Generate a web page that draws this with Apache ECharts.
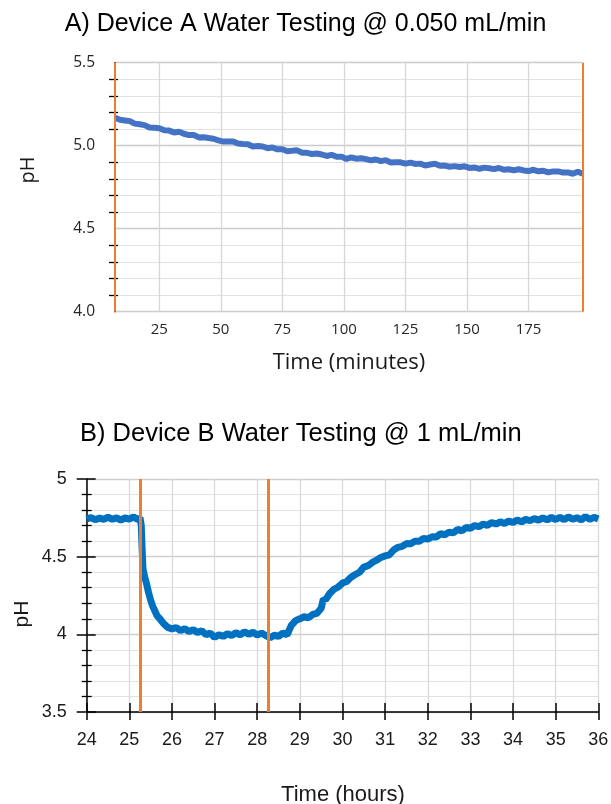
<!DOCTYPE html>
<html><head><meta charset="utf-8">
<script src="https://cdn.jsdelivr.net/npm/echarts@6/dist/echarts.min.js"></script>
<style>html,body{margin:0;padding:0;background:#fff}#c{width:611px;height:804px}</style>
</head><body><div id="c"></div>
<script>
// ---------- Chart A data ----------
const titleA = 'A) Device A Water Testing @ 0.050 mL/min';
const aTime = [7,9,11,13,15,17,19,21,23,25,27,29,31,33,35,37,39,41,43,45,47,49,51,53,55,57,59,61,63,65,67,69,71,73,75,77,79,81,83,85,87,89,91,93,95,97,99,101,103,105,107,109,111,113,115,117,119,121,123,125,127,129,131,133,135,137,139,141,143,145,147,149,151,153,155,157,159,161,163,165,167,169,171,173,175,177,179,181,183,185,187,189,191,193,195,197];
const aPH = [5.168,5.156,5.152,5.148,5.133,5.129,5.124,5.110,5.108,5.105,
5.093,5.091,5.080,5.084,5.072,5.064,5.064,5.050,5.051,5.046,
5.042,5.032,5.025,5.025,5.026,5.013,5.010,5.009,4.995,4.998,
4.995,4.985,4.989,4.978,4.979,4.967,4.969,4.972,4.958,4.957,
4.950,4.953,4.947,4.938,4.945,4.933,4.934,4.920,4.929,4.922,
4.924,4.919,4.912,4.917,4.907,4.913,4.899,4.901,4.900,4.892,
4.898,4.890,4.892,4.881,4.887,4.891,4.879,4.880,4.873,4.877,
4.872,4.876,4.866,4.869,4.861,4.868,4.864,4.859,4.866,4.855,
4.858,4.851,4.858,4.851,4.847,4.855,4.846,4.849,4.839,4.845,
4.845,4.838,4.839,4.831,4.843,4.831];
const aXTicks = [25,50,75,100,125,150,175];
const orangeA = [7,197];

// ---------- Chart B data ----------
const titleB = 'B) Device B Water Testing @ 1 mL/min';
const bTime = [24.0,24.1,24.2,24.3,24.4,24.5,24.6,24.7,24.8,24.9,25.0,25.1,25.2,25.25,25.28,25.30,25.32,25.36,25.40,25.45,25.50,25.55,25.60,25.65,25.70,25.80,25.90,26.0,26.1,26.2,26.3,26.4,26.5,26.6,26.7,26.8,26.9,27.0,27.1,27.2,27.3,27.4,27.5,27.6,27.7,27.8,27.9,28.0,28.1,28.2,28.3,28.4,28.5,28.6,28.7,28.8,28.9,29.0,29.1,29.2,29.3,29.4,29.5,29.55,29.6,29.7,29.8,29.9,30.0,30.1,30.2,30.3,30.4,30.5,30.6,30.7,30.8,30.9,31.0,31.1,31.2,31.3,31.4,31.5,31.6,31.7,31.8,31.9,32.0,32.1,32.2,32.3,32.4,32.5,32.6,32.7,32.8,32.9,33.0,33.1,33.2,33.3,33.4,33.5,33.6,33.7,33.8,33.9,34.0,34.1,34.2,34.3,34.4,34.5,34.6,34.7,34.8,34.9,35.0,35.1,35.2,35.3,35.4,35.5,35.6,35.7,35.8,35.9,36.0];
const bPH = [4.742,4.752,4.738,4.748,4.740,4.754,4.741,4.750,4.736,4.749,4.742,4.756,4.739,4.752,4.700,4.550,4.420,4.370,4.330,4.270,4.220,4.180,4.150,4.120,4.105,4.070,4.045,4.035,4.043,4.024,4.036,4.017,4.030,4.012,4.023,3.997,4.008,3.980,3.998,3.987,4.003,3.992,4.010,3.997,4.016,4.001,4.013,3.996,4.008,3.992,3.978,3.994,3.987,4.008,3.997,4.058,4.088,4.100,4.113,4.107,4.128,4.135,4.168,4.228,4.222,4.263,4.290,4.305,4.330,4.340,4.368,4.385,4.400,4.433,4.442,4.463,4.477,4.495,4.505,4.512,4.543,4.560,4.566,4.584,4.583,4.600,4.599,4.618,4.613,4.628,4.626,4.648,4.641,4.658,4.653,4.676,4.666,4.688,4.683,4.700,4.693,4.710,4.702,4.720,4.710,4.724,4.714,4.730,4.720,4.736,4.724,4.740,4.731,4.746,4.734,4.750,4.737,4.753,4.739,4.754,4.738,4.756,4.741,4.751,4.737,4.758,4.740,4.753,4.742];
const orangeB = [25.25,28.27];

const fA = '"Open Sans", Lato, sans-serif';
const fB = '"Liberation Sans", Arial, sans-serif';
const black = '#000';

const chart = echarts.init(document.getElementById('c'), null, {renderer: 'canvas'});
const option = {
  animation: false,
  backgroundColor: '#fff',
  title: [
    {text: titleA, left: 'center', top: 11.5, padding: 0,
     textStyle: {fontFamily: fB, fontSize: 25, fontWeight: 'normal', color: '#000'}},
    {text: titleB, left: 80, top: 420.5, padding: 0,
     textStyle: {fontFamily: fB, fontSize: 25.5, fontWeight: 'normal', color: '#000'}}
  ],
  grid: [
    {left: 115, top: 62.7, width: 467.7, height: 249, outerBoundsMode: 'none', containLabel: false},
    {left: 86.7, top: 479, width: 511.6, height: 233, outerBoundsMode: 'none', containLabel: false}
  ],
  xAxis: [
    {gridIndex: 0, type: 'value', min: 7, max: 197, position: 'bottom',
     axisLine: {show: false},
     axisTick: {show: false, customValues: aXTicks},
     axisLabel: {customValues: aXTicks, margin: 11, fontFamily: fA, fontSize: 15, color: '#262626'},
     splitLine: {show: true, lineStyle: {color: '#d6d6d6', width: 1.3}}},
    {gridIndex: 1, type: 'value', min: 24, max: 36, interval: 1, position: 'bottom',
     axisLine: {show: true, onZero: false, lineStyle: {color: black, width: 1.5}},
     axisTick: {show: true, length: 8, lineStyle: {color: black, width: 1.5}},
     axisLabel: {margin: 19, fontFamily: fB, fontSize: 18, color: '#1a1a1a', showMinLabel: true, showMaxLabel: true},
     splitLine: {show: true, lineStyle: {color: '#d9d9d9', width: 1.3}}},
    {gridIndex: 1, type: 'value', min: 24, max: 36, interval: 1, position: 'bottom', offset: 0,
     axisLine: {show: false, onZero: false},
     axisTick: {show: true, inside: true, length: 9, lineStyle: {color: black, width: 1.5}},
     axisLabel: {show: false}, splitLine: {show: false}}
  ],
  yAxis: [
    {gridIndex: 0, type: 'value', min: 4, max: 5.5, interval: 0.5, position: 'left',
     axisLine: {show: true, onZero: false, lineStyle: {color: black, width: 1.5}},
     axisTick: {show: false},
     minorTick: {show: true, splitNumber: 5, length: 6, lineStyle: {color: black, width: 1.3}},
     axisLabel: {margin: 20, formatter: v => v.toFixed(1), fontFamily: fA, fontSize: 15.5, color: '#262626', showMinLabel: true, showMaxLabel: true},
     splitLine: {show: true, lineStyle: {color: '#cccccc', width: 1.3}},
     minorSplitLine: {show: true, lineStyle: {color: '#e2e2e2', width: 1}}},
    {gridIndex: 0, type: 'value', min: 4, max: 5.5, interval: 0.5, position: 'left', offset: 0,
     axisLine: {show: false, onZero: false},
     axisTick: {show: false, inside: true},
     minorTick: {show: true, splitNumber: 5, length: 3, lineStyle: {color: black, width: 1.3}},
     axisLabel: {show: false}, splitLine: {show: false}, minorSplitLine: {show: false}},
    {gridIndex: 1, type: 'value', min: 3.5, max: 5, interval: 0.5, position: 'left',
     axisLine: {show: true, onZero: false, lineStyle: {color: black, width: 1.5}},
     axisTick: {show: true, length: 10, lineStyle: {color: black, width: 1.5}},
     minorTick: {show: true, splitNumber: 5, length: 5, lineStyle: {color: black, width: 1.3}},
     axisLabel: {margin: 20, fontFamily: fB, fontSize: 18, color: '#1a1a1a', showMinLabel: true, showMaxLabel: true},
     splitLine: {show: true, lineStyle: {color: '#cfcfcf', width: 1.3}},
     minorSplitLine: {show: true, lineStyle: {color: '#e2e2e2', width: 1}}},
    {gridIndex: 1, type: 'value', min: 3.5, max: 5, interval: 0.5, position: 'left', offset: 0,
     axisLine: {show: false, onZero: false},
     axisTick: {show: true, inside: true, length: 9, lineStyle: {color: black, width: 1.5}},
     minorTick: {show: true, splitNumber: 5, length: 5, lineStyle: {color: black, width: 1.3}},
     axisLabel: {show: false}, splitLine: {show: false}, minorSplitLine: {show: false}}
  ],
  graphic: [
    {type: 'text', x: 28, y: 170, rotation: Math.PI / 2,
     style: {text: 'pH', font: '20px ' + fA, fill: '#1a1a1a', textAlign: 'center', textVerticalAlign: 'middle'}},
    {type: 'text', x: 349, y: 363,
     style: {text: 'Time (minutes)', font: '22px ' + fA, fill: '#1a1a1a', textAlign: 'center', textVerticalAlign: 'middle'}},
    {type: 'text', x: 22, y: 614, rotation: Math.PI / 2,
     style: {text: 'pH', font: '21px ' + fB, fill: '#1a1a1a', textAlign: 'center', textVerticalAlign: 'middle'}},
    {type: 'text', x: 343, y: 795,
     style: {text: 'Time (hours)', font: '22px ' + fB, fill: '#1a1a1a', textAlign: 'center', textVerticalAlign: 'middle'}}
  ],
  series: [
    {type: 'line', xAxisIndex: 0, yAxisIndex: 0, data: aTime.map((t, i) => [t, aPH[i]]),
     showSymbol: false, symbol: 'none', smooth: false, z: 3,
     lineStyle: {color: '#4472C4', width: 6, join: 'bevel'},
     markLine: {silent: true, symbol: 'none', label: {show: false}, animation: false,
       lineStyle: {color: '#ED7D31', width: 2, type: 'solid'},
       data: orangeA.map(v => ({xAxis: v}))}},
    {type: 'line', xAxisIndex: 1, yAxisIndex: 2, data: bTime.map((t, i) => [t, bPH[i]]),
     showSymbol: false, symbol: 'none', smooth: false, z: 3,
     lineStyle: {color: '#0070C0', width: 7, join: 'bevel'},
     markLine: {silent: true, symbol: 'none', label: {show: false}, animation: false,
       lineStyle: {color: '#ED7D31', width: 3, type: 'solid'},
       data: orangeB.map(v => ({xAxis: v}))}}
  ]
};
chart.setOption(option);
</script></body></html>
